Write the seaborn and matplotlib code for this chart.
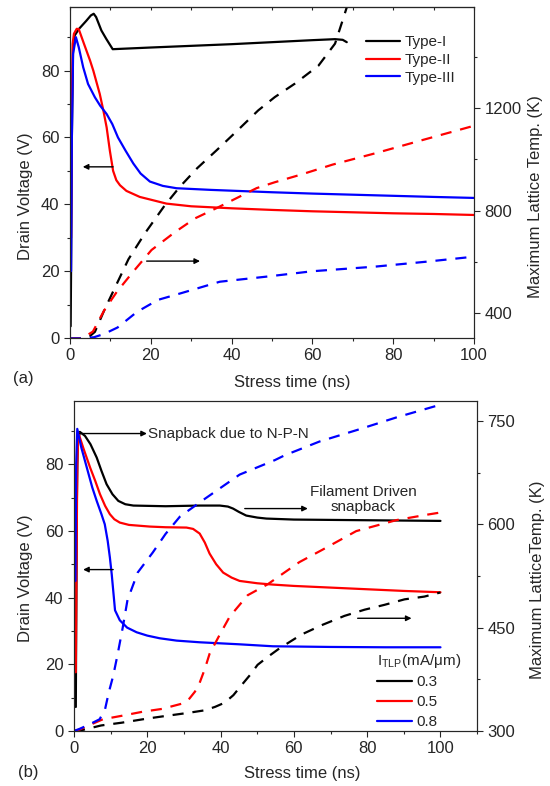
import numpy as np
import pandas as pd
import seaborn as sns
import matplotlib
matplotlib.use("Agg")
import matplotlib.pyplot as plt
from matplotlib.ticker import MultipleLocator

# ---------------- data, panel (a) ----------------
a_types = ["Type-I", "Type-II", "Type-III"]

# drain voltage (left axis, solid)
a1_t = [0.2, 0.3, 0.5, 0.8, 1.2, 2.2, 4, 5.2, 5.9, 6.5, 7.8, 9, 10.6, 20, 30, 40, 50, 60, 65.6, 67.5, 68.5]
a1_v = [3.5, 20, 60, 88, 90.5, 92.4, 94.8, 96.5, 97, 96, 92, 89.5, 86.4, 86.9, 87.4, 87.9, 88.5, 89.1, 89.4, 89.2, 88.5]
a2_t = [0.3, 0.5, 0.7, 1.0, 1.7, 2.2, 3.5, 5, 5.8, 7.4, 8.3, 9.1, 9.9, 10.7, 11.5, 12.4, 14, 17.3, 23.9,
        30, 40, 50.3, 60, 70, 80, 90, 100]
a2_v = [30, 70, 88, 91, 92.5, 92.4, 88, 83, 80, 73, 68, 63, 56, 50, 47.2, 45.7, 44, 42.2, 40.2,
        39.4, 38.8, 38.3, 37.9, 37.6, 37.3, 37.1, 36.8]
a3_t = [0.3, 0.5, 0.8, 1.5, 2.2, 3.3, 4.5, 6.2, 7.5, 9.1, 10.5, 11.9, 13.8, 15.7, 17.5, 19.8, 23, 26.4,
        35, 50, 60, 75, 90, 100]
a3_v = [20, 60, 85, 90, 87, 81, 76, 72, 69.5, 67, 64, 60, 56, 52.2, 49.2, 46.8, 45.5, 44.8,
        44.3, 43.6, 43.2, 42.7, 42.2, 41.9]

# max lattice temperature (right axis, dashed)
a1_tt = [0, 3, 5, 6.2, 8.5, 11.1, 14.5, 18.6, 23.5, 27.2, 31.5, 36.3, 41.5, 46.6, 50.7, 55.7, 61.5, 65.6, 67.6, 68.5]
a1_T = [300, 300, 310, 326, 410, 497, 610, 712, 821, 893, 966, 1036, 1114, 1192, 1244, 1297, 1367, 1453, 1550, 1595]
a2_tt = [0, 3, 5.7, 8.5, 11.6, 15.6, 20.2, 26, 31, 36.7, 46.2, 50.7, 57.4, 65, 75.5, 87, 100]
a2_T = [300, 300, 327, 410, 482, 560, 646, 716, 770, 813, 888, 911, 942, 980, 1024, 1075, 1132]
a3_tt = [0, 3, 6, 8.5, 11.8, 16.6, 21.8, 27.7, 37.1, 48.7, 60, 75.5, 88, 100]
a3_T = [300, 300, 305, 318, 343, 404, 451, 478, 522, 542, 563, 581, 600, 620]

# ---------------- data, panel (b) ----------------
b_levels = ["0.3", "0.5", "0.8"]

b1_t = [0.5, 0.6, 0.8, 1.0, 1.6, 3, 4.5, 6.2, 7.5, 8.9, 10.5, 12.1, 14, 16.2, 25, 34.3, 39.8, 42, 43.4,
        45, 47, 50, 52.5, 60, 70, 80, 90, 100]
b1_v = [7.2, 30, 70, 86, 89.7, 88.5, 86, 82, 78, 74, 71, 69, 68, 67.6, 67.4, 67.6, 67.6, 67.3, 66.7,
        65.7, 64.6, 64, 63.7, 63.4, 63.3, 63.2, 63.1, 63]
b2_t = [0.5, 0.7, 0.9, 1.2, 2.5, 4.4, 5.8, 7.1, 8.5, 9.8, 11, 12.5, 15, 20.7, 25, 30.7, 32.5, 34.3, 35.7,
        37, 38.8, 40.7, 43, 45.2, 50, 54.3, 60, 70, 80, 90, 100]
b2_v = [17.6, 50, 80, 89.4, 85, 79, 75, 71, 67.5, 65, 63.5, 62.5, 61.8, 61.3, 61.1, 61, 60.6, 59.2, 56.5,
        53.2, 50, 47.5, 46, 45, 44.3, 43.9, 43.5, 43, 42.5, 42, 41.6]
b3_t = [0.4, 0.6, 0.9, 2, 3.5, 5, 6.2, 7.5, 8.4, 9.2, 9.8, 10.3, 10.7, 11.2, 12.5, 14.5, 17.1, 20, 23.4,
        28, 34.3, 45, 54.3, 70, 85, 100]
b3_v = [45, 80, 90.6, 85, 79, 73, 69, 65, 62, 57, 52, 47, 42.2, 36.2, 33.2, 31, 29.6, 28.6, 27.8,
        27.1, 26.6, 26, 25.4, 25.2, 25.1, 25.1]

b1_tt = [0, 2, 7.4, 13, 20, 25.3, 30.8, 35.7, 38.5, 41.1, 43.5, 45.8, 48, 50.1, 53, 56.1, 62.1, 67.8,
         73.8, 79.3, 84.7, 90.2, 95.6, 100]
b1_T = [300, 301, 308, 312, 318, 322, 326, 330, 335, 341, 352, 367, 381, 396, 408, 420, 440, 454,
        467, 476, 483, 491, 495, 501]
b2_tt = [0, 1.5, 4, 7.9, 13, 18.8, 24, 29.7, 31.5, 33, 34.3, 35.7, 37, 39.8, 42.5, 47.4, 52.9, 56.1,
         61.5, 67.8, 77, 88, 96.5, 100]
b2_T = [300, 302, 308, 317, 322, 328, 332, 340, 347, 357, 370, 390, 412, 440, 466, 497, 513, 525,
        545, 563, 590, 606, 614, 617]
b3_tt = [0, 1.5, 4, 7, 8.5, 9.5, 10.7, 11.9, 13.3, 14.6, 17.4, 21.5, 25, 28.9, 35.2, 45.2, 54.8, 57.5,
         67, 77.4, 88, 98.4, 100]
b3_T = [300, 303, 309, 317, 332, 356, 380, 411, 450, 490, 530, 559, 586, 611, 635, 672, 693, 700,
        720, 737, 755, 771, 773]

colors = ["#000000", "#ff0000", "#0000ff"]


def long_df(names, ts, ys, col):
    parts = [pd.DataFrame({"t": t, col: y, "grp": n}) for n, t, y in zip(names, ts, ys)]
    return pd.concat(parts, ignore_index=True)


dfa_v = long_df(a_types, [a1_t, a2_t, a3_t], [a1_v, a2_v, a3_v], "v")
dfa_T = long_df(a_types, [a1_tt, a2_tt, a3_tt], [a1_T, a2_T, a3_T], "T")
dfb_v = long_df(b_levels, [b1_t, b2_t, b3_t], [b1_v, b2_v, b3_v], "v")
dfb_T = long_df(b_levels, [b1_tt, b2_tt, b3_tt], [b1_T, b2_T, b3_T], "T")

sns.set_style("ticks")
plt.rcParams["font.family"] = ["Liberation Sans", "DejaVu Sans"]
plt.rcParams["mathtext.fontset"] = "custom"
plt.rcParams["mathtext.rm"] = "Liberation Sans"
plt.rcParams["axes.linewidth"] = 0.8

fig = plt.figure(figsize=(5.5, 7.86), dpi=100)
axA = fig.add_axes([0.127, 0.570, 0.735, 0.421])
axB = fig.add_axes([0.1345, 0.070, 0.733, 0.420])

FS = 12
dash = (0, (5, 4))
arrow = dict(arrowstyle="-|>", color="k", lw=1, mutation_scale=8, shrinkA=0, shrinkB=0)


def style_axes(ax, ax2):
    for a in (ax, ax2):
        a.tick_params(which="major", length=4, width=0.8, labelsize=FS, direction="out")
        a.tick_params(which="minor", length=2.5, width=0.8, direction="out")
    ax.xaxis.set_major_locator(MultipleLocator(20))
    ax.xaxis.set_minor_locator(MultipleLocator(10))
    ax.yaxis.set_major_locator(MultipleLocator(20))
    ax.yaxis.set_minor_locator(MultipleLocator(10))


# ---------------- panel (a) ----------------
axA2 = axA.twinx()
sns.lineplot(data=dfa_v, x="t", y="v", hue="grp", palette=colors, estimator=None, sort=False,
             lw=1.6, ax=axA, legend=True)
sns.lineplot(data=dfa_T, x="t", y="T", hue="grp", palette=colors, estimator=None, sort=False,
             lw=1.6, linestyle=dash, ax=axA2, legend=False)
h, l = axA.get_legend_handles_labels()
axA.get_legend().remove()
axA2.legend(h, l, loc="upper left", bbox_to_anchor=(0.733, 0.915), frameon=False, fontsize=11,
            borderpad=0, borderaxespad=0, handlelength=2.2, handletextpad=0.3, labelspacing=0.25)

axA.set_xlim(0, 100)
axA.set_ylim(0, 99)
axA2.set_ylim(302, 1596)
style_axes(axA, axA2)
axA2.yaxis.set_major_locator(MultipleLocator(400))
axA2.yaxis.set_minor_locator(MultipleLocator(200))
sec = axA.secondary_xaxis("top")
sec.xaxis.set_major_locator(MultipleLocator(10))
sec.tick_params(direction="in", length=2, width=0.8, labeltop=False)
sec.spines["top"].set_linewidth(0.8)

axA.set_xlabel("Stress time (ns)", fontsize=FS)
axA.xaxis.set_label_coords(0.55, -0.112)
axA.set_ylabel("Drain Voltage (V)", fontsize=FS)
axA.yaxis.set_label_coords(-0.092, 0.428)
axA2.set_ylabel("Maximum Lattice Temp. (K)", fontsize=FS)
axA2.yaxis.set_label_coords(1.134, 0.426)

axA.annotate("", xy=(3.2, 51.2), xytext=(10.7, 51.2), arrowprops=arrow)
axA.annotate("", xy=(32.2, 23), xytext=(19, 23), arrowprops=arrow)
fig.text(0.024, 0.519, "(a)", fontsize=FS, va="center")

# ---------------- panel (b) ----------------
axB2 = axB.twinx()
sns.lineplot(data=dfb_v, x="t", y="v", hue="grp", palette=colors, estimator=None, sort=False,
             lw=1.6, ax=axB, legend=True)
sns.lineplot(data=dfb_T, x="t", y="T", hue="grp", palette=colors, estimator=None, sort=False,
             lw=1.6, linestyle=dash, ax=axB2, legend=False)
h, l = axB.get_legend_handles_labels()
axB.get_legend().remove()
axB2.legend(h, l, title=r"$\mathregular{I_{TLP}}$(mA/μm)", title_fontsize=11, alignment="left",
            loc="lower left", bbox_to_anchor=(0.752, 0.006), frameon=False, fontsize=11,
            borderpad=0, borderaxespad=0, handlelength=2.3, handletextpad=0.3, labelspacing=0.38)

axB.set_xlim(0, 110)
axB.set_ylim(0, 99)
axB2.set_ylim(300, 779)
style_axes(axB, axB2)
axB2.yaxis.set_major_locator(MultipleLocator(150))
axB2.yaxis.set_minor_locator(MultipleLocator(75))

axB.set_xlabel("Stress time (ns)", fontsize=FS)
axB.xaxis.set_label_coords(0.566, -0.106)
axB.set_ylabel("Drain Voltage (V)", fontsize=FS)
axB.yaxis.set_label_coords(-0.102, 0.464)
axB2.set_ylabel("Maximum LatticeTemp. (K)", fontsize=FS)
axB2.yaxis.set_label_coords(1.131, 0.458)

axB.annotate("", xy=(19.9, 89.2), xytext=(1.6, 89.2), arrowprops=arrow)
axB.text(20.2, 89.2, "Snapback due to N-P-N", fontsize=11, va="center", ha="left")
axB.annotate("", xy=(2.5, 48.4), xytext=(10.7, 48.4), arrowprops=arrow)
axB.annotate("", xy=(63.8, 66.7), xytext=(46.6, 66.7), arrowprops=arrow)
axB.text(79, 69.4, "Filament Driven\nsnapback", fontsize=11, va="center", ha="center", linespacing=1.1)
axB.annotate("", xy=(92.1, 33.8), xytext=(77.4, 33.8), arrowprops=arrow)
fig.text(0.033, 0.0166, "(b)", fontsize=FS, va="center")

for a in (axA, axA2, axB, axB2):
    for s in a.spines.values():
        s.set_linewidth(0.8)

fig.savefig("out.png", dpi=100)
